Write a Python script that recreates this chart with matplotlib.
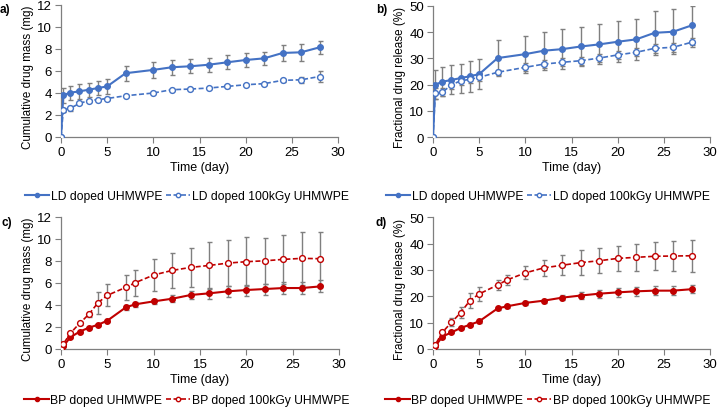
import matplotlib.pyplot as plt

plt.rcParams['font.family'] = ['Liberation Sans', 'DejaVu Sans']
plt.rcParams['font.size'] = 8.5

BLUE = '#4472C4'
RED = '#C00000'
GREY = '#7f7f7f'

# time points (day)
t_ld = [0, 0.25, 1, 2, 3, 4, 5, 7, 10, 12, 14, 16, 18, 20, 22, 24, 26, 28]
t_bp = [0, 0.25, 1, 2, 3, 4, 5, 7, 8, 10, 12, 14, 16, 18, 20, 22, 24, 26, 28]

# a) LD cumulative mass (mg)
ld_mass = [0, 3.8, 4.03, 4.15, 4.3, 4.45, 4.6, 5.8, 6.1, 6.34, 6.43, 6.57, 6.79, 7.0, 7.15, 7.64, 7.7, 8.15]
ld_mass_err = [0, 0.7, 0.65, 0.65, 0.65, 0.65, 0.65, 0.7, 0.75, 0.7, 0.65, 0.65, 0.65, 0.65, 0.6, 0.7, 0.75, 0.6]
ld100_mass = [0, 2.45, 2.6, 3.06, 3.3, 3.4, 3.5, 3.75, 4.0, 4.3, 4.36, 4.45, 4.6, 4.75, 4.85, 5.15, 5.2, 5.5]
ld100_mass_err = [0, 0.15, 0.2, 0.1, 0.1, 0.1, 0.1, 0.1, 0.1, 0.1, 0.1, 0.1, 0.1, 0.1, 0.1, 0.15, 0.25, 0.5]

# b) LD fractional release (%)
ld_frac = [0, 20.0, 21.1, 21.8, 22.5, 23.2, 24.0, 30.1, 31.6, 32.9, 33.5, 34.5, 35.3, 36.3, 37.2, 39.7, 40.1, 42.5]
ld_frac_err = [0, 5.5, 5.5, 5.5, 5.5, 5.8, 5.8, 6.8, 7.0, 7.2, 7.5, 7.5, 7.6, 7.7, 7.8, 8.4, 8.6, 7.5]
ld100_frac = [0, 16.7, 17.1, 19.9, 21.5, 22.0, 22.8, 24.7, 26.6, 27.8, 28.5, 29.1, 30.1, 31.3, 32.3, 33.8, 34.2, 36.1]
ld100_frac_err = [0, 2.0, 1.5, 1.5, 1.5, 1.5, 1.5, 1.0, 1.5, 1.5, 1.5, 1.5, 1.5, 1.5, 1.5, 1.8, 1.8, 1.8]

# c) BP cumulative mass (mg)
bp_mass = [0, 0.25, 1.06, 1.57, 1.93, 2.2, 2.57, 3.78, 4.05, 4.32, 4.56, 4.9, 5.05, 5.23, 5.35, 5.44, 5.53, 5.53, 5.68]
bp_mass_err = [0, 0.05, 0.1, 0.1, 0.1, 0.1, 0.15, 0.2, 0.2, 0.2, 0.3, 0.4, 0.5, 0.5, 0.5, 0.5, 0.55, 0.55, 0.55]
bp100_mass = [0, 0.45, 1.42, 2.32, 3.14, 4.2, 4.87, 5.59, 6.01, 6.71, 7.13, 7.4, 7.58, 7.79, 7.92, 8.0, 8.13, 8.22, 8.19]
bp100_mass_err = [0, 0.1, 0.15, 0.15, 0.2, 1.0, 1.0, 1.15, 1.2, 1.45, 1.6, 1.8, 2.1, 2.1, 2.2, 2.1, 2.2, 2.4, 2.4]

# d) BP fractional release (%)
bp_frac = [0, 1.0, 4.7, 6.3, 8.0, 9.2, 10.5, 15.4, 16.2, 17.5, 18.35, 19.5, 20.3, 21.0, 21.5, 21.9, 22.15, 22.15, 22.7]
bp_frac_err = [0, 0.2, 0.4, 0.4, 0.5, 0.5, 0.5, 0.6, 0.6, 0.7, 0.8, 1.0, 1.3, 1.5, 1.6, 1.7, 1.8, 1.8, 1.5]
bp100_frac = [0, 1.6, 6.3, 10.1, 13.8, 18.4, 20.9, 24.3, 26.2, 28.9, 30.8, 31.8, 32.8, 33.5, 34.4, 34.8, 35.2, 35.3, 35.4]
bp100_frac_err = [0, 0.5, 1.0, 1.5, 2.0, 3.0, 2.5, 2.0, 2.0, 2.5, 3.0, 3.8, 4.6, 4.7, 4.8, 5.0, 5.3, 5.6, 6.0]

W, H = 722, 414
fig = plt.figure(figsize=(W / 100, H / 100), dpi=100)


def make_ax(x0, x1, y0, y1):
    return fig.add_axes([x0 / W, 1 - y1 / H, (x1 - x0) / W, (y1 - y0) / H])


def draw(ax, t, y1, e1, y2, e2, color, ymax, ystep, ylabel, lab1, lab2, letter, lx, ly):
    ax.errorbar(t, y1, yerr=e1, fmt='none', ecolor=GREY, elinewidth=1.0, capsize=1.8, capthick=1, zorder=1)
    ax.errorbar(t, y2, yerr=e2, fmt='none', ecolor=GREY, elinewidth=1.0, capsize=1.8, capthick=1, zorder=1)
    ax.plot(t, y1, '-o', color=color, lw=1.5, ms=4, label=lab1, zorder=3)
    ax.plot(t, y2, '--o', color=color, lw=1.2, ms=4.2, mfc='white', mew=1,
            label=lab2, zorder=3, dashes=(3, 1.5))
    ax.set_xlim(0, 30)
    ax.set_ylim(0, ymax)
    ax.set_xticks(range(0, 31, 5))
    ax.set_yticks(range(0, ymax + 1, ystep))
    for s in ['top', 'right']:
        ax.spines[s].set_visible(False)
    for s in ['left', 'bottom']:
        ax.spines[s].set_color('#7f7f7f')
        ax.spines[s].set_linewidth(0.9)
    ax.tick_params(direction='out', length=4, color='#7f7f7f', labelsize=9.5, pad=2.5)
    ax.set_xlabel('Time (day)', fontsize=9, labelpad=2)
    ax.set_ylabel(ylabel, fontsize=8.4, labelpad=2.5)
    ax.yaxis.label.set_y(0.46)
    fig.text(lx / W, 1 - ly / H, letter, fontsize=8.5, fontweight='bold', va='top', ha='left')


axa = make_ax(61, 338, 6, 138)
axb = make_ax(433, 710, 6.7, 138.3)
axc = make_ax(61, 339, 217.7, 350)
axd = make_ax(433, 710, 218.3, 350)

draw(axa, t_ld, ld_mass, ld_mass_err, ld100_mass, ld100_mass_err, BLUE, 12, 2,
     'Cumulative drug mass (mg)', 'LD doped UHMWPE', 'LD doped 100kGy UHMWPE', 'a)', 0, 4)
draw(axb, t_ld, ld_frac, ld_frac_err, ld100_frac, ld100_frac_err, BLUE, 50, 10,
     'Fractional drug release (%)', 'LD doped UHMWPE', 'LD doped 100kGy UHMWPE', 'b)', 376, 4)
draw(axc, t_bp, bp_mass, bp_mass_err, bp100_mass, bp100_mass_err, RED, 12, 2,
     'Cumulative drug mass (mg)', 'BP doped UHMWPE', 'BP doped 100kGy UHMWPE', 'c)', 1, 217)
draw(axd, t_bp, bp_frac, bp_frac_err, bp100_frac, bp100_frac_err, RED, 50, 10,
     'Fractional drug release (%)', 'BP doped UHMWPE', 'BP doped 100kGy UHMWPE', 'd)', 376, 217)

for ax, cx, cy in [(axa, 187, 197), (axb, 548, 197), (axc, 187, 401), (axd, 548, 401)]:
    ax.legend(loc='center', bbox_to_anchor=(cx / W, 1 - cy / H), bbox_transform=fig.transFigure,
              ncol=2, frameon=False, fontsize=8.7, handlelength=2.0, handletextpad=0.15,
              columnspacing=0.3, markerscale=0.75, borderaxespad=0, borderpad=0)

fig.savefig('out.png', dpi=100)
